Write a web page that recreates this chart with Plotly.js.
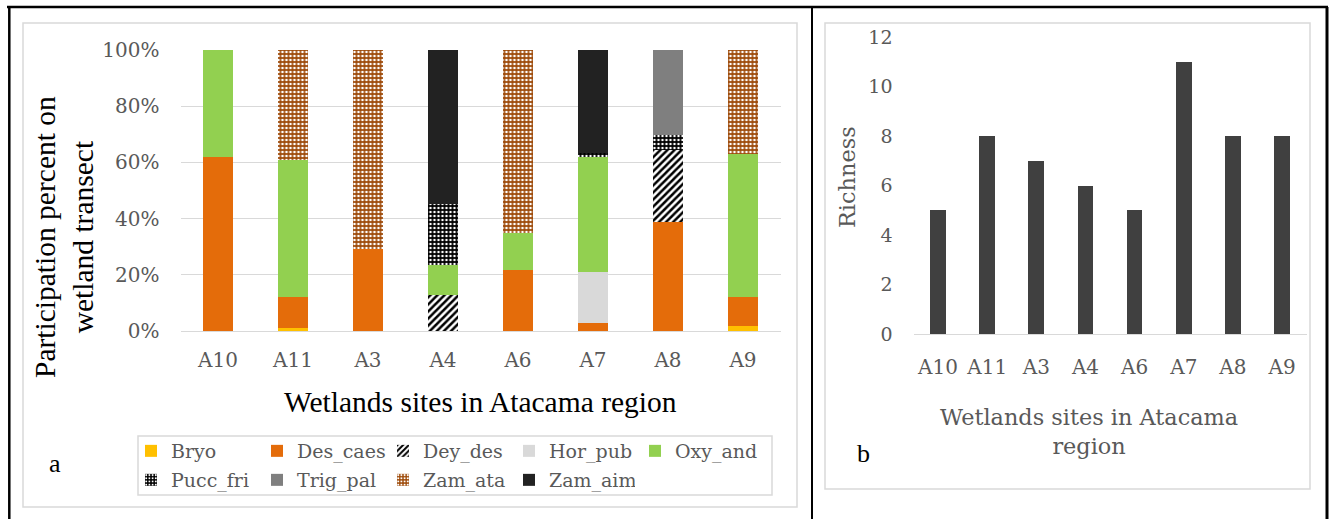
<!DOCTYPE html>
<html>
<head>
<meta charset="utf-8">
<script src="https://cdn.plot.ly/plotly-3.0.1.min.js"></script>
<style>html,body{margin:0;padding:0;background:#fff;}#chart{width:1330px;height:519px;}</style>
</head>
<body>
<div id="chart"></div>
<script>
// ---- data ----
const sites = ['A10','A11','A3','A4','A6','A7','A8','A9'];
const Bryo     = [0,    1.0,  0,    0,    0,    0,    0,    1.9];
const Des_caes = [61.8, 11.2, 29.1, 0,    21.7, 2.8,  38.9, 10.2];
const Dey_des  = [0,    0,    0,    12.8, 0,    0,    25.5, 0];
const Hor_pub  = [0,    0,    0,    0,    0,    18.1, 0,    0];
const Oxy_and  = [38.2, 48.5, 0,    10.7, 13.1, 40.9, 0,    50.8];
const Pucc_fri = [0,    0,    0,    21.7, 0,    1.4,  5.4,  0];
const Trig_pal = [0,    0,    0,    0,    0,    0,    30.2, 0];
const Zam_ata  = [0,    39.3, 70.9, 0,    65.2, 0,    0,    37.1];
const Zam_aim  = [0,    0,    0,    54.8, 0,    36.8, 0,    0];
const richness = [5, 8, 7, 6, 5, 11, 8, 8];
const pctTicks = [0, 20, 40, 60, 80, 100];
const pctLabels = ['0%', '20%', '40%', '60%', '80%', '100%'];
const richTicks = [0, 2, 4, 6, 8, 10, 12];

// ---- layout helpers ----
const W = 1330, H = 519;
const px = x => x / W;
const py = y => 1 - y / H;
const SERIF = 'Liberation Serif, Times New Roman, serif';
const CAMB = 'DejaVu Serif, Cambria, serif';
const GRAY = '#595959';

function seg(name, vals, color, legend, pattern) {
  const t = {type: 'bar', name: name, x: sites, y: vals, xaxis: 'x', yaxis: 'y',
    marker: {color: color, line: {width: 0}}, legend: legend, hoverinfo: 'name+y'};
  if (pattern) t.marker.pattern = pattern;
  return t;
}

const traces = [
  seg('Bryo', Bryo, '#FFC000', 'legend'),
  seg('Des_caes', Des_caes, '#E46C0A', 'legend'),
  seg('Dey_des', Dey_des, '#000000', 'legend', {shape: '/', fgcolor: '#000000', bgcolor: '#ffffff', size: 5, solidity: 0.5}),
  seg('Hor_pub', Hor_pub, '#D9D9D9', 'legend'),
  seg('Oxy_and', Oxy_and, '#92D050', 'legend'),
  seg('Pucc_fri', Pucc_fri, '#000000', 'legend2', {shape: '.', fgcolor: '#ffffff', bgcolor: '#000000', size: 4, solidity: 0.3}),
  seg('Trig_pal', Trig_pal, '#7F7F7F', 'legend2'),
  seg('Zam_ata', Zam_ata, '#9E4B0A', 'legend2', {shape: '.', fgcolor: '#ffffff', bgcolor: '#9E4B0A', size: 4, solidity: 0.35}),
  seg('Zam_aim', Zam_aim, '#222222', 'legend2'),
  {type: 'bar', name: 'Richness', x: sites, y: richness, xaxis: 'x2', yaxis: 'y2',
   marker: {color: '#404040'}, showlegend: false, width: 0.32}
];

const legendCommon = {orientation: 'h', xanchor: 'left', yanchor: 'middle',
  bgcolor: 'rgba(0,0,0,0)', borderwidth: 0, font: {family: CAMB, size: 19, color: GRAY},
  entrywidth: 81, entrywidthmode: 'pixels', itemclick: false, traceorder: 'normal', itemwidth: 30};

const line = (x0, y0, x1, y1, color, w) => ({type: 'line', xref: 'paper', yref: 'paper',
  x0: px(x0), y0: py(y0), x1: px(x1), y1: py(y1), line: {color: color, width: w}});
const rect = (x0, y0, x1, y1, color, w) => ({type: 'rect', xref: 'paper', yref: 'paper',
  x0: px(x0), y0: py(y0), x1: px(x1), y1: py(y1), line: {color: color, width: w}, fillcolor: 'rgba(0,0,0,0)', layer: 'below'});

const layout = {
  width: W, height: H,
  margin: {l: 0, r: 0, t: 0, b: 0},
  paper_bgcolor: '#ffffff', plot_bgcolor: 'rgba(0,0,0,0)',
  barmode: 'stack', bargap: 0.6,
  showlegend: true,
  xaxis: {domain: [px(180.5), px(780.5)], anchor: 'y', type: 'category', categoryarray: sites,
    showgrid: false, showline: true, linecolor: '#D9D9D9', linewidth: 1, ticks: '',
    tickfont: {family: CAMB, size: 20, color: GRAY}, ticklabelstandoff: 11, fixedrange: true},
  yaxis: {domain: [py(331), py(50)], anchor: 'x', range: [0, 100], tickvals: pctTicks, ticktext: pctLabels,
    showgrid: true, gridcolor: '#D9D9D9', gridwidth: 1, zeroline: false, showline: false, ticks: '',
    tickfont: {family: CAMB, size: 20, color: GRAY}, ticklabelstandoff: 20, fixedrange: true},
  xaxis2: {domain: [px(913.5), px(1306.6)], anchor: 'y2', type: 'category', categoryarray: sites,
    showgrid: false, showline: true, linecolor: '#D9D9D9', linewidth: 1, ticks: '',
    tickfont: {family: CAMB, size: 20, color: GRAY}, ticklabelstandoff: 15, fixedrange: true},
  yaxis2: {domain: [py(334), py(37)], anchor: 'x2', range: [0, 12], tickvals: richTicks,
    showgrid: false, zeroline: false, showline: false, ticks: '',
    tickfont: {family: CAMB, size: 19, color: GRAY}, ticklabelstandoff: 20, fixedrange: true},
  legend: Object.assign({}, legendCommon, {x: px(131), y: py(451)}),
  legend2: Object.assign({}, legendCommon, {x: px(131), y: py(480)}),
  shapes: [
    line(7, 7, 1328, 7, '#000000', 2.5),
    line(9.3, 7, 9.3, 519, '#000000', 2.5),
    line(812, 7, 812, 519, '#000000', 2),
    line(1327, 7, 1327, 519, '#000000', 3),
    rect(23, 23, 797, 507, '#D9D9D9', 1.5),
    rect(825, 23, 1310, 489, '#D9D9D9', 1.5),
    rect(138, 436, 772, 495, '#D9D9D9', 1.5)
  ],
  annotations: [
    {xref: 'paper', yref: 'paper', x: px(64), y: py(237), text: 'Participation percent on<br>wetland transect',
     textangle: -90, showarrow: false, font: {family: SERIF, size: 29.5, color: '#000000'}, xanchor: 'center', yanchor: 'middle'},
    {xref: 'paper', yref: 'paper', x: px(481), y: py(402), text: 'Wetlands sites in Atacama region',
     showarrow: false, font: {family: SERIF, size: 29.5, color: '#000000'}, xanchor: 'center', yanchor: 'middle'},
    {xref: 'paper', yref: 'paper', x: px(55), y: py(463), text: 'a',
     showarrow: false, font: {family: SERIF, size: 26, color: '#000000'}, xanchor: 'center', yanchor: 'middle'},
    {xref: 'paper', yref: 'paper', x: px(847), y: py(177), text: 'Richness', textangle: -90,
     showarrow: false, font: {family: CAMB, size: 22.4, color: GRAY}, xanchor: 'center', yanchor: 'middle'},
    {xref: 'paper', yref: 'paper', x: px(1089), y: py(431), text: 'Wetlands sites in Atacama<br>region',
     showarrow: false, font: {family: CAMB, size: 22.4, color: GRAY}, xanchor: 'center', yanchor: 'middle'},
    {xref: 'paper', yref: 'paper', x: px(863), y: py(453), text: 'b',
     showarrow: false, font: {family: SERIF, size: 26, color: '#000000'}, xanchor: 'center', yanchor: 'middle'}
  ]
};

Plotly.newPlot('chart', traces, layout, {displayModeBar: false, staticPlot: true});
</script>
</body>
</html>
